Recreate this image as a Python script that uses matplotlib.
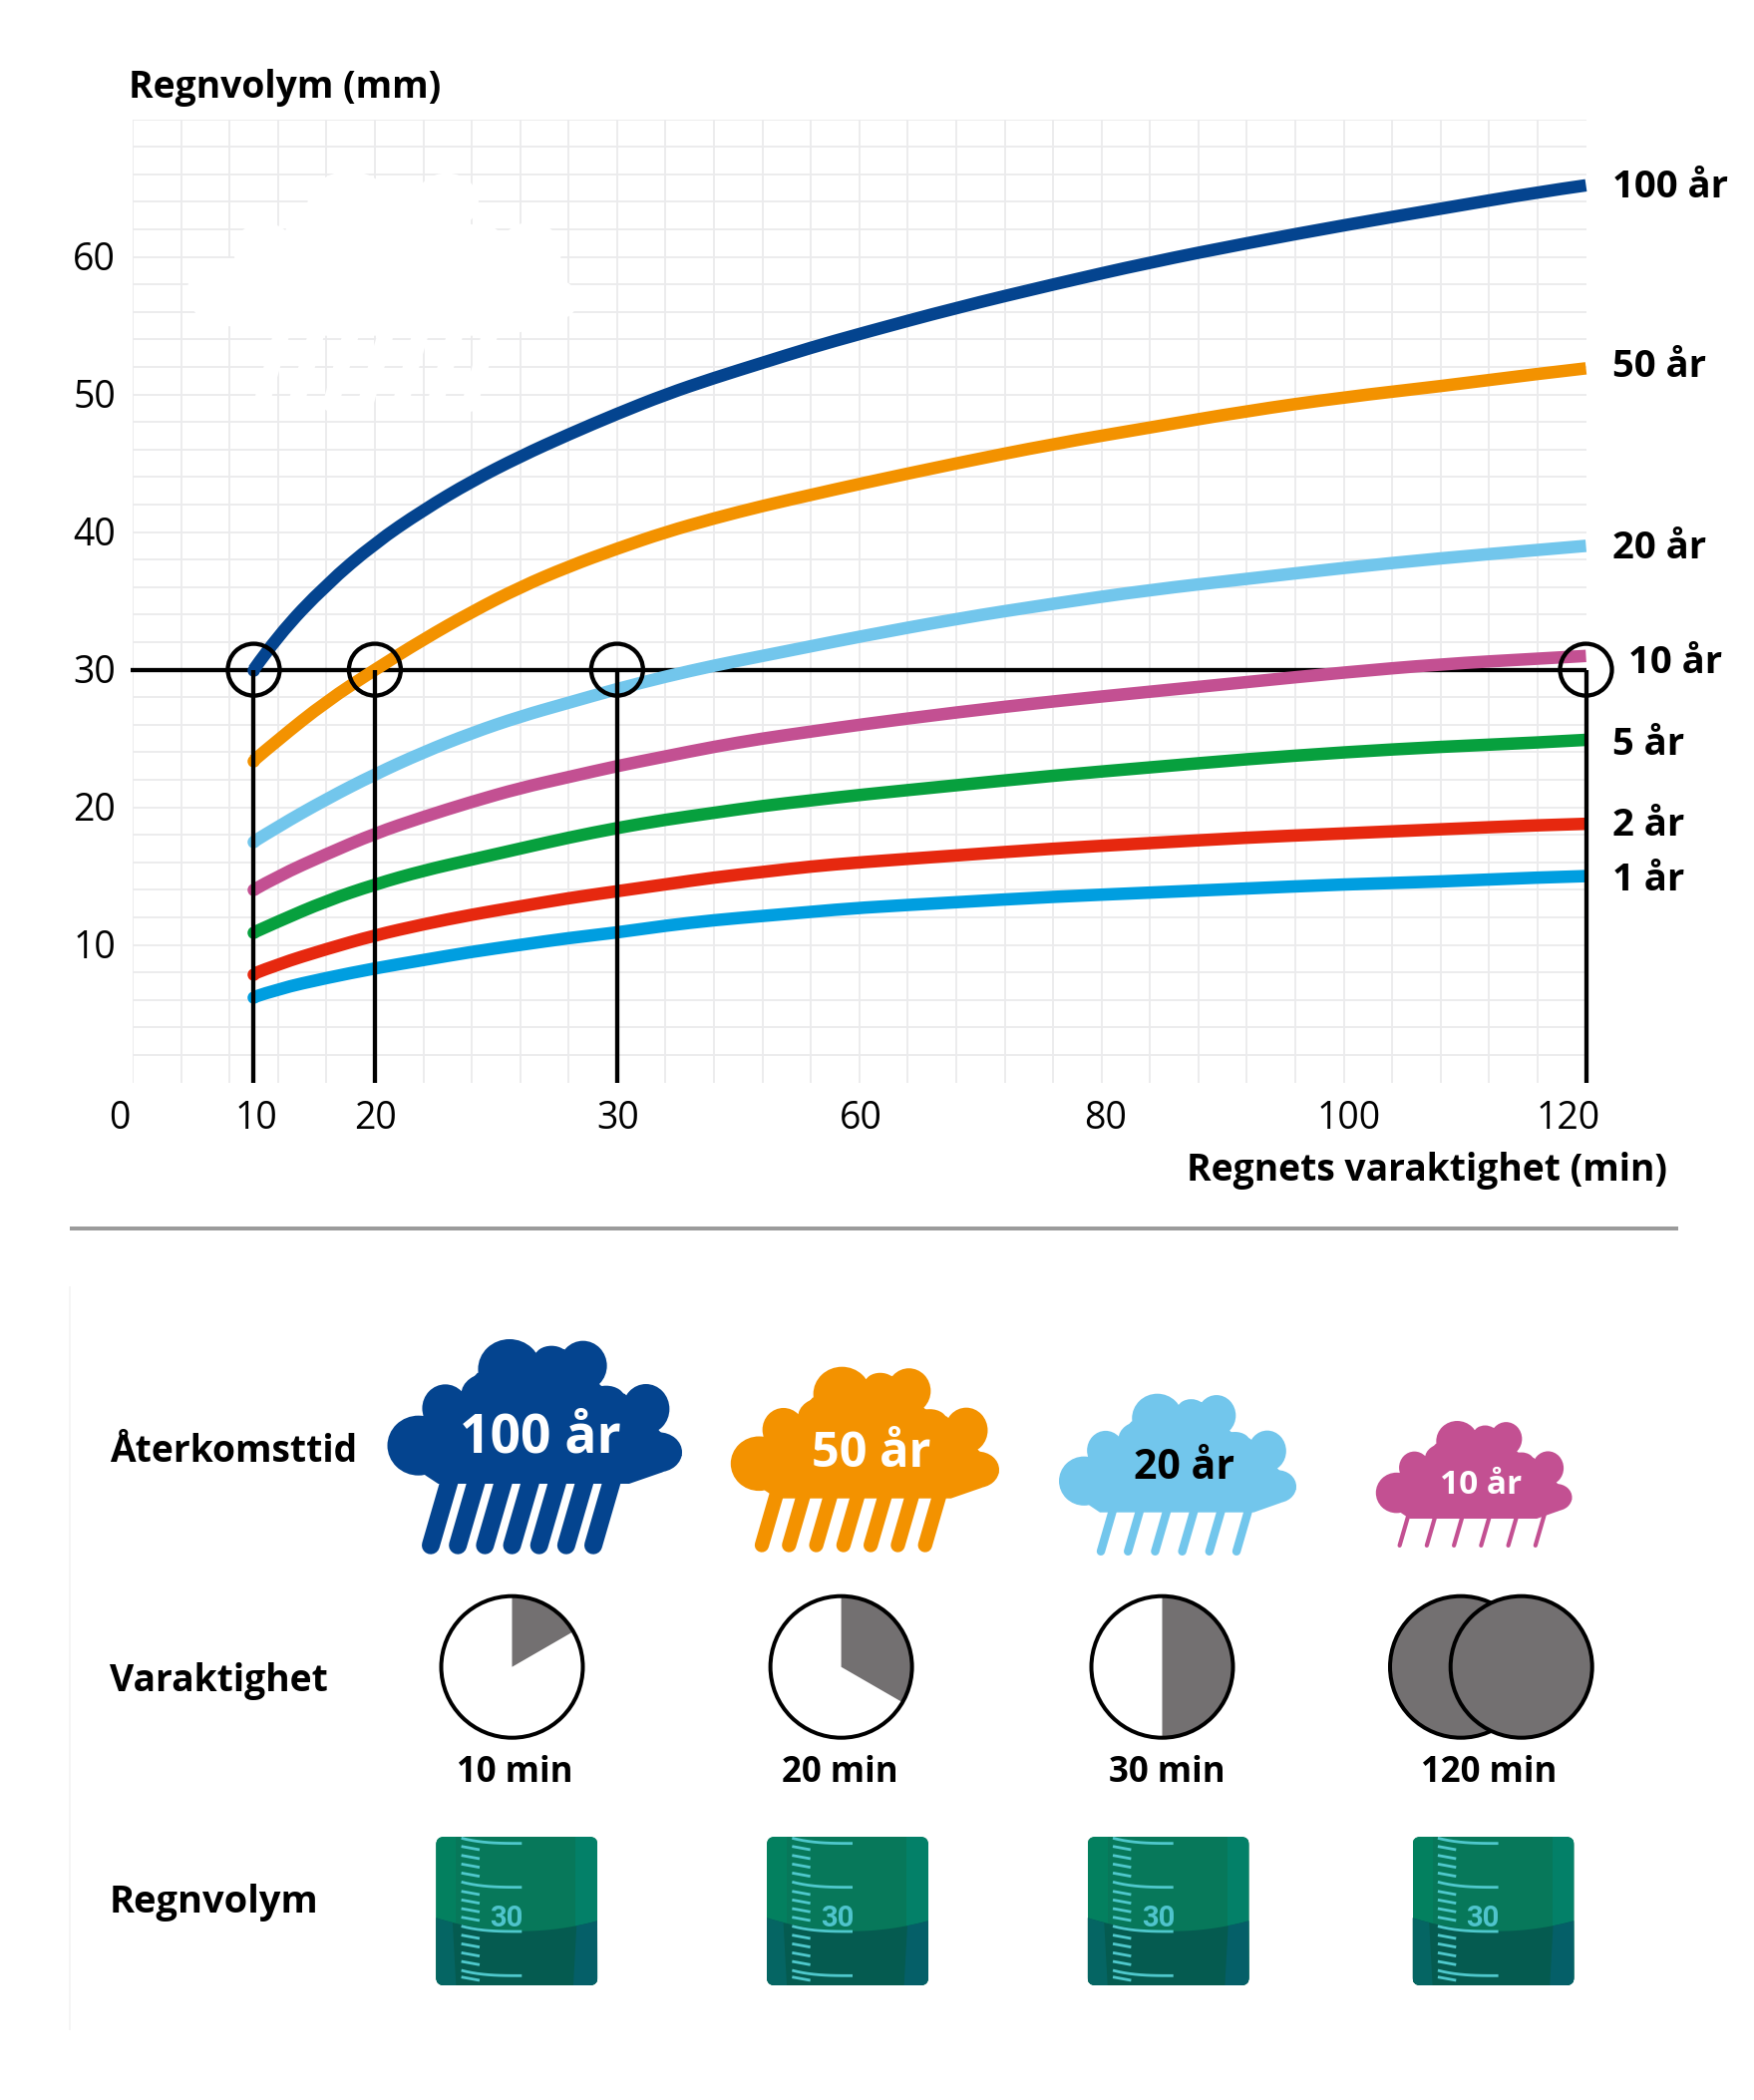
import matplotlib
matplotlib.use("Agg")
import matplotlib.pyplot as plt
import numpy as np
from matplotlib.patches import Ellipse, FancyBboxPatch, PathPatch, Polygon, Rectangle, Wedge, Circle
from matplotlib.path import Path

plt.rcParams["font.family"] = ["Open Sans", "DejaVu Sans"]

# rain curves
minutes = [10, 12, 16, 20, 24, 28, 32, 36, 40, 44, 48, 52, 56, 60, 68, 76, 84, 92, 100, 108, 116, 120]
rain_100 = [30.0, 32.5, 36.2, 39.2, 41.6, 43.7, 45.5, 47.1, 48.6, 50.0, 51.2, 52.3, 53.4, 54.4, 56.3, 58.0, 59.6, 61.0, 62.3, 63.5, 64.7, 65.2]
rain_50 = [23.4, 24.9, 27.7, 30.0, 32.2, 34.2, 36.0, 37.5, 38.8, 40.0, 41.0, 41.9, 42.7, 43.5, 45.0, 46.4, 47.6, 48.8, 49.8, 50.6, 51.5, 51.9]
rain_20 = [17.5, 18.6, 20.6, 22.4, 24.0, 25.4, 26.6, 27.6, 28.6, 29.5, 30.3, 31.0, 31.7, 32.4, 33.7, 34.8, 35.8, 36.6, 37.4, 38.1, 38.7, 39.0]
rain_10 = [14.0, 15.0, 16.6, 18.1, 19.3, 20.4, 21.4, 22.2, 23.0, 23.7, 24.4, 25.0, 25.5, 26.0, 26.9, 27.7, 28.4, 29.1, 29.8, 30.4, 30.8, 31.0]
rain_5 = [10.9, 11.7, 13.2, 14.4, 15.4, 16.2, 17.0, 17.8, 18.5, 19.1, 19.6, 20.1, 20.5, 20.9, 21.6, 22.3, 22.9, 23.5, 24.0, 24.4, 24.7, 24.9]
rain_2 = [7.9, 8.6, 9.7, 10.7, 11.5, 12.2, 12.8, 13.4, 13.9, 14.4, 14.9, 15.3, 15.7, 16.0, 16.5, 17.0, 17.4, 17.8, 18.1, 18.4, 18.7, 18.8]
rain_1 = [6.2, 6.8, 7.6, 8.3, 8.9, 9.5, 10.0, 10.5, 10.9, 11.4, 11.8, 12.1, 12.4, 12.7, 13.1, 13.5, 13.8, 14.1, 14.4, 14.6, 14.9, 15.0]

series_labels = ["100 år", "50 år", "20 år", "10 år", "5 år", "2 år", "1 år"]
series_colors = ["#04448f", "#f39200", "#72c6ec", "#c35092", "#07a03e", "#e6280f", "#009ee0"]

y_ticks = [10, 20, 30, 40, 50, 60]
# the axis really runs evenly, but the tick at 40 is printed as 30
x_tick_pos = [0, 10, 20, 40, 60, 80, 100, 120]
x_tick_labels = ["0", "10", "20", "30", "60", "80", "100", "120"]
# where the reading lines come down, and the level they start from
marked_pos = [10, 20, 40, 120]
marked_level = 30

durations = [10, 20, 30, 120]
duration_labels = ["10 min", "20 min", "30 min", "120 min"]
row_labels = ["Återkomsttid", "Varaktighet", "Regnvolym"]

W, H = 1759, 2106
DPI = 100


def px(n):
    return n * 72 / DPI


def curve_path(xs, ys):
    # quadratic pieces through the midpoints, so the readings do not show as kinks
    pts = np.column_stack([xs, ys])
    verts = [pts[0]]
    codes = [Path.MOVETO]
    for i in range(1, len(pts) - 1):
        end = pts[-1] if i == len(pts) - 2 else (pts[i] + pts[i + 1]) / 2
        verts += [pts[i], end]
        codes += [Path.CURVE3, Path.CURVE3]
    return Path(verts, codes)


fig = plt.figure(figsize=(W / DPI, H / DPI), dpi=DPI, facecolor="white")

# overlay in image pixels, for the icons
pix = fig.add_axes([0, 0, 1, 1], zorder=5)
pix.set_xlim(0, W)
pix.set_ylim(H, 0)
pix.axis("off")
pix.patch.set_alpha(0)

L, R, T, B = 133, 1590.5, 119.6, 1085.6
ax = fig.add_axes([L / W, 1 - B / H, (R - L) / W, (B - T) / H], zorder=1)
ax.set_xlim(0, 120)
ax.set_ylim(0, 70)
for s in ax.spines.values():
    s.set_visible(False)
ax.set_xticks([])
ax.set_yticks([])

GRID = "#ebebed"
ax.vlines(np.arange(0, 120, 4), 0, 70, color=GRID, lw=px(1.9), zorder=1)
ax.hlines(np.arange(2, 71, 2), 0, 120, color=GRID, lw=px(1.9), zorder=1)

# cloud outline, in a unit where the big cloud is 702 x 435
LOBES = [(335, 160, 75, 90), (435, 125, 40, 35), (510, 150, 57, 75), (290, 235, 70, 65),
         (182, 278, 55, 72), (118, 390, 74, 90), (660, 280, 56, 75), (565, 250, 45, 40),
         (690, 410, 56, 60)]
BODY = [(130, 300), (220, 228), (258, 172), (400, 110), (465, 100), (553, 210), (610, 235),
        (695, 350), (746, 420), (700, 470), (620, 505), (165, 505), (135, 480), (60, 400)]


def draw_cloud(target, transform, box, drop_bottom, drop_span, n_drops, drop_w, color, zorder):
    x0, y0, x1, y1 = box
    sx = (x1 - x0) / 702
    sy = (y1 - y0) / 435
    fx = lambda v: x0 + (v - 44) * sx
    fy = lambda v: y0 + (v - 70) * sy
    for cx, cy, rx, ry in LOBES:
        target.add_patch(Ellipse((fx(cx), fy(cy)), 2 * rx * sx, 2 * ry * sy, fc=color, ec="none",
                                 transform=transform, zorder=zorder))
    target.add_patch(Polygon([(fx(a), fy(b)) for a, b in BODY], closed=True, fc=color, ec="none",
                             transform=transform, zorder=zorder))
    for xb in np.linspace(drop_span[0], drop_span[1], n_drops):
        dy = drop_bottom - drop_w / 2 - (y1 - 10)
        target.plot([xb, xb + 0.29 * dy], [drop_bottom - drop_w / 2, y1 - 10], color=color,
                    lw=px(drop_w), solid_capstyle="round", transform=transform, zorder=zorder)


# white ghost cloud on the grid
draw_cloud(ax, pix.transData, (187.5, 171.7, 580, 336.7), 413, (262, 471), 7, 16, "white", 2)
ax.set_xlim(0, 120)
ax.set_ylim(0, 70)

# reading lines
ax.hlines(marked_level, -0.2, 120, color="black", lw=px(4.3), zorder=3, clip_on=False)
all_rain = [rain_100, rain_50, rain_20, rain_10, rain_5, rain_2, rain_1]
CURVE_W = 12.5
for vals, col in zip(all_rain, series_colors):
    ax.add_patch(PathPatch(curve_path(minutes, vals), fc="none", ec=col, lw=px(CURVE_W), capstyle="butt",
                           joinstyle="round", zorder=4, clip_on=False))
    ax.plot(minutes[0], vals[0], "o", color=col, ms=px(CURVE_W), mew=0, zorder=4, clip_on=False)
ax.vlines(marked_pos, 0, marked_level, color="black", lw=px(4.3), zorder=5, clip_on=False)
ax.scatter(marked_pos, [marked_level] * len(marked_pos), s=px(52) ** 2, fc="none", ec="black",
           lw=px(4.3), zorder=6, clip_on=False)

# axis text
BOLD = 26.8
TICK = 27
for v in y_ticks:
    ax.annotate(str(v), (0, v), xytext=(-17, -13.5), textcoords="offset pixels", ha="right", va="baseline",
                fontsize=TICK, color="black", annotation_clip=False)
x_label_shift = [-13, 3, 1, 1, 2, 4, 5, -17.5]
for pos, lab, d in zip(x_tick_pos, x_tick_labels, x_label_shift):
    ax.annotate(lab, (pos, 0), xytext=(d, -46), textcoords="offset pixels", ha="center", va="baseline",
                fontsize=TICK, color="black", annotation_clip=False)

pix.text(129, 98, "Regnvolym (mm)", fontsize=BOLD, fontweight="bold", ha="left", va="baseline")
pix.text(1672, 1184, "Regnets varaktighet (min)", fontsize=BOLD, fontweight="bold", ha="right", va="baseline")

label_spots = [(1617, 198), (1617, 378), (1617, 560), (1633, 675), (1617, 757), (1617, 837.5), (1617, 893)]
for lab, (xx, yy) in zip(series_labels, label_spots):
    pix.text(xx, yy, lab, fontsize=27.5, fontweight="bold", ha="left", va="baseline")

# separator and the faint rule down the left of the lower panel
pix.plot([70, 1683], [1232, 1232], color="#9b9b9b", lw=px(4), solid_capstyle="butt")
pix.plot([70, 70], [1290, 2036], color="#f3f3f3", lw=px(1.5), solid_capstyle="butt")

for lab, yy, fs in zip(row_labels, [1466, 1696, 1918], [BOLD, BOLD, 27.4]):
    pix.text(110, yy, lab, fontsize=fs, fontweight="bold", ha="left", va="baseline")

# rain clouds for the return periods
draw_cloud(pix, pix.transData, (388.5, 1343, 684, 1488), 1558.7, (432, 595), 7, 18, series_colors[0], 2)
draw_cloud(pix, pix.transData, (732.8, 1370.7, 1002, 1502.7), 1556.7, (764, 927.7), 7, 14.3, series_colors[1], 2)
draw_cloud(pix, pix.transData, (1062, 1397.7, 1300, 1516.7), 1560, (1104, 1240), 6, 8.4, series_colors[2], 2)
draw_cloud(pix, pix.transData, (1379.8, 1425, 1576.5, 1523), 1552, (1403.6, 1539.8), 6, 4.2, series_colors[3], 2)
cloud_text = [(541.7, 1456.7, 38.5, "white"), (874, 1471, 35, "white"), (1188, 1483, 29.5, "black"), (1485.5, 1498, 24, "white")]
for lab, (xx, yy, fs, col) in zip(series_labels[:4], cloud_text):
    pix.text(xx, yy, lab, fontsize=fs, fontweight="bold", color=col, ha="center", va="baseline", zorder=3)

# duration clocks
CLOCK_Y = 1671.7
CLOCK_R = 71
GREY = "#737071"
clock_x = [513.5, 843.6, 1165.5]
for m, cx in zip(durations[:3], clock_x):
    pix.add_patch(Circle((cx, CLOCK_Y), CLOCK_R, fc="white", ec="none", zorder=2))
    # y axis is flipped here, so angles run clockwise from the x axis
    pix.add_patch(Wedge((cx, CLOCK_Y), CLOCK_R, -90, -90 + m * 6, fc=GREY, ec="none", zorder=3))
    pix.add_patch(Circle((cx, CLOCK_Y), CLOCK_R, fc="none", ec="black", lw=px(4), zorder=4))
for cx in [1465, 1525.7]:
    pix.add_patch(Circle((cx, CLOCK_Y), CLOCK_R, fc=GREY, ec="black", lw=px(4), zorder=4))
for lab, cx in zip(duration_labels, [516, 842, 1170, 1493]):
    pix.text(cx, 1787, lab, fontsize=25, fontweight="bold", ha="center", va="baseline")


def draw_beaker(x0, y0):
    # 162 x 149 px beaker crop, drawn from 3x coordinates of the icon
    w, h = 162, 149
    fx = lambda v: x0 + (v - 52) / 3
    fy = lambda v: y0 + (v - 36) / 3
    clip = FancyBboxPatch((x0 + 8, y0 + 8), w - 16, h - 16, boxstyle="round,pad=8", fc="none", ec="none",
                          transform=pix.transData)
    pix.add_patch(clip)
    shapes = []
    shapes.append(Rectangle((x0, y0), w, h, fc="#07785a", ec="none"))
    shapes.append(Rectangle((x0, y0), (112 - 52) / 3, h, fc="#03805f", ec="none"))
    shapes.append(Rectangle((fx(472), y0), (537 - 472) / 3, h, fc="#038068", ec="none"))
    xs = np.linspace(52, 537, 40)
    surf = 320 - 40 * ((xs - 310) / 258) ** 2
    low = [(fx(a), fy(b)) for a, b in zip(xs, surf)] + [(x0 + w, y0 + h), (x0, y0 + h)]
    shapes.append(Polygon(low, closed=True, fc="#055b50", ec="none"))
    low_l = [(fx(a), fy(b)) for a, b in zip(xs, surf) if a <= 112] + [(fx(112), y0 + h), (x0, y0 + h)]
    low_r = [(fx(a), fy(b)) for a, b in zip(xs, surf) if a >= 465] + [(x0 + w, y0 + h), (fx(465), y0 + h)]
    shapes.append(Polygon(low_l, closed=True, fc="#056563", ec="none"))
    shapes.append(Polygon(low_r, closed=True, fc="#055f68", ec="none"))
    for s in shapes:
        s.set_zorder(2)
        pix.add_patch(s)
        s.set_clip_path(clip)
    tick = "#4fc8cc"
    for top in [40, 172, 305, 438]:
        t = np.linspace(0, 1, 12)
        line_x = 128 + t * 182
        line_y = top + 16 * (1 - (1 - t) ** 3)
        ln, = pix.plot(fx(line_x), fy(line_y), color=tick, lw=px(2.8), solid_capstyle="butt", zorder=3)
        ln.set_clip_path(clip)
    for top in [65, 92, 118, 145, 200, 226, 252, 278, 332, 358, 385, 411, 458]:
        ln, = pix.plot(fx(np.array([128, 183])), fy(np.array([top, top + 10])), color=tick, lw=px(2.8),
                       solid_capstyle="butt", zorder=3)
        ln.set_clip_path(clip)
    pix.text(fx(264), fy(307), "30", fontsize=21, fontweight="bold", color="#4fc4cc", ha="center",
             va="baseline", zorder=3, family=["Roboto", "DejaVu Sans"])


for x0 in [437.3, 769, 1090.7, 1416.6]:
    draw_beaker(x0, 1842)

fig.savefig("out.png", dpi=DPI, facecolor="white")
